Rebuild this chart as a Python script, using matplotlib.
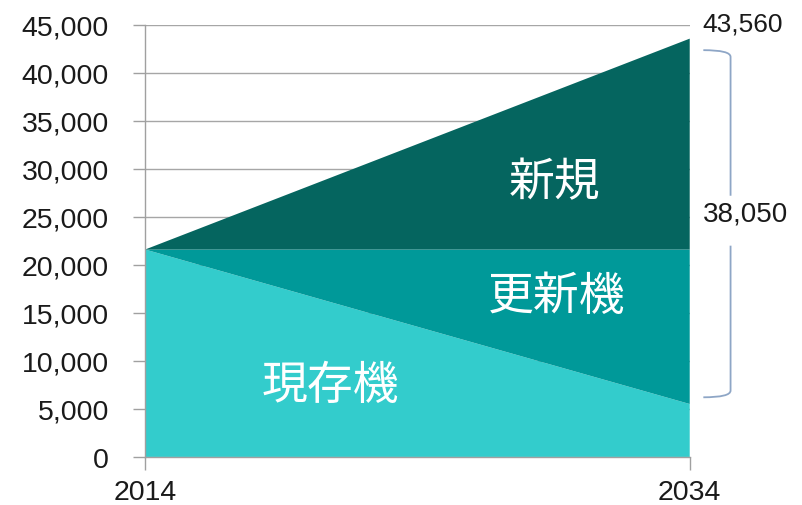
import matplotlib
matplotlib.use("Agg")
import matplotlib.pyplot as plt
from matplotlib.path import Path
from matplotlib.patches import PathPatch

years = [2014, 2034]
existing = [21600, 5510]      # 現存機
replacement = [0, 16090]      # 更新機
new = [0, 21960]              # 新規
names = ["現存機", "更新機", "新規"]
colors = ["#33cccc", "#009999", "#05655f"]
yticks = list(range(0, 45001, 5000))

plt.rcParams["font.family"] = ["Liberation Sans", "DejaVu Sans"]
cjk = ["Noto Sans CJK JP", "DejaVu Sans"]

fig = plt.figure(figsize=(8.02, 5.06), dpi=100)
ax = fig.add_axes([0.181, 0.095, 0.679, 0.854])

ax.stackplot(years, existing, replacement, new, colors=colors, linewidth=0, zorder=2)

ax.set_xlim(2014, 2034)
ax.set_ylim(0, 45000)
ax.set_yticks(yticks)
ax.set_yticklabels(["{:,}".format(v) for v in yticks])
ax.set_xticks(years)
ax.set_xticklabels([str(y) for y in years])
ax.tick_params(axis="both", labelsize=20.5, color="#a0a0a0", length=9, width=1, labelcolor="#1a1a1a")
ax.tick_params(axis="y", pad=17)
ax.tick_params(axis="x", pad=7)
ax.yaxis.grid(True, color="#a6a6a6", linewidth=1, zorder=0)
ax.set_axisbelow(True)
for s in ["top", "right"]:
    ax.spines[s].set_visible(False)
for s in ["left", "bottom"]:
    ax.spines[s].set_color("#a0a0a0")
    ax.spines[s].set_linewidth(1)

# labels inside areas
ax.text(2020.8, 7500, names[0], color="white", fontsize=33, family=cjk, ha="center", va="center", zorder=3)
ax.text(2029.1, 16800, names[1], color="white", fontsize=33, family=cjk, ha="center", va="center", zorder=3)
ax.text(2029.05, 28650, names[2], color="white", fontsize=33, family=cjk, ha="center", va="center", zorder=3)

total = existing[1] + replacement[1] + new[1]
growth = replacement[1] + new[1]
ax.text(2034.45, 45100, "{:,}".format(total), fontsize=19, color="#1a1a1a", ha="left", va="center", clip_on=False)
ax.text(2036.05, 25300, "{:,}".format(growth), fontsize=20, color="#1a1a1a", ha="center", va="center", clip_on=False)

# bracket
top = total - 1200
bot = existing[1] + 700
xl, xr = 2034.5, 2035.5
c = 700
for y0, y1, sgn in [(top, 27200, -1), (bot, 22000, 1)]:
    verts = [(xl, y0), (xr, y0), (xr, y0 + sgn * c), (xr, y1)]
    codes = [Path.MOVETO, Path.CURVE3, Path.CURVE3, Path.LINETO]
    ax.add_patch(PathPatch(Path(verts, codes), fill=False, edgecolor="#8ea6c6", linewidth=1.3, clip_on=False))

fig.savefig("out.png", dpi=100)
